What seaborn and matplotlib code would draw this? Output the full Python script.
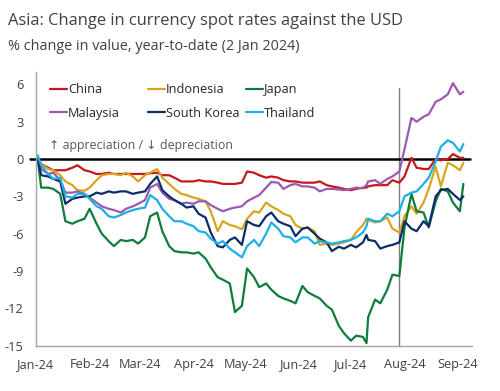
import pandas as pd
import matplotlib
matplotlib.use("Agg")
import matplotlib.pyplot as plt
import matplotlib.dates as mdates
from matplotlib.lines import Line2D
import seaborn as sns

dates = [
    "2024-01-02", "2024-01-04", "2024-01-08", "2024-01-11", "2024-01-15", "2024-01-18", "2024-01-22", "2024-01-25", "2024-01-29",
    "2024-02-01", "2024-02-05", "2024-02-08", "2024-02-12", "2024-02-15", "2024-02-19", "2024-02-22", "2024-02-26", "2024-02-29",
    "2024-03-04", "2024-03-07", "2024-03-11", "2024-03-14", "2024-03-18", "2024-03-21", "2024-03-25", "2024-03-28",
    "2024-04-01", "2024-04-04", "2024-04-08", "2024-04-11", "2024-04-15", "2024-04-18", "2024-04-22", "2024-04-25", "2024-04-29",
    "2024-05-02", "2024-05-06", "2024-05-09", "2024-05-13", "2024-05-16", "2024-05-20", "2024-05-23", "2024-05-27", "2024-05-30",
    "2024-06-03", "2024-06-06", "2024-06-10", "2024-06-13", "2024-06-17", "2024-06-20", "2024-06-24", "2024-06-27",
    "2024-07-01", "2024-07-04", "2024-07-08", "2024-07-10", "2024-07-11", "2024-07-15", "2024-07-18", "2024-07-22", "2024-07-25", "2024-07-29",
    "2024-08-01", "2024-08-05", "2024-08-08", "2024-08-12", "2024-08-15", "2024-08-19", "2024-08-22", "2024-08-26", "2024-08-29",
    "2024-09-02", "2024-09-04",
]

china = [
    0, -0.4, -0.7, -0.9, -0.9, -0.9, -0.7, -0.5, -0.9,
    -1.0, -1.2, -1.2, -1.1, -1.2, -1.2, -1.2, -1.2, -1.2,
    -1.2, -1.15, -1.1, -1.3, -1.3, -1.5, -1.8, -1.8,
    -1.8, -1.7, -1.8, -1.8, -1.9, -2.0, -2.0, -2.0, -1.9,
    -1.0, -1.1, -1.3, -1.5, -1.4, -1.5, -1.7, -1.8, -1.8,
    -1.9, -1.9, -1.9, -1.8, -2.1, -2.2, -2.3, -2.4,
    -2.5, -2.4, -2.3, -2.3, -2.2, -2.1, -2.1, -2.1, -1.7, -1.9,
    -1.4, 0.1, -0.7, -0.8, -0.8, 0.0, -0.1, 0.0, 0.4,
    0.1, 0.1,
]
indonesia = [
    0, -0.4, -0.8, -0.9, -1.3, -1.8, -2.1, -2.5, -2.55,
    -2.3, -1.7, -1.3, -1.2, -1.2, -1.3, -1.1, -1.4, -1.8,
    -1.3, -1.1, -0.8, -1.5, -2.0, -2.4, -2.8, -2.9,
    -3.1, -3.2, -3.4, -4.2, -5.8, -5.0, -5.3, -5.4, -5.65,
    -4.8, -4.2, -4.3, -3.5, -3.8, -4.1, -4.4, -4.6, -5.3,
    -5.6, -5.5, -5.8, -6.9, -6.8, -6.9, -6.8, -6.7,
    -6.5, -5.9, -5.3, -4.8, -4.9, -5.1, -5.0, -4.7, -5.6, -5.9,
    -4.6, -3.8, -4.4, -3.5, -2.4, -0.6, -2.2, -0.3, -0.5,
    -0.9, -0.3,
]
japan = [
    0, -2.3, -2.3, -2.4, -2.8, -5.0, -5.2, -5.0, -4.8,
    -4.0, -5.2, -6.0, -6.6, -7.0, -6.5, -6.6, -6.5, -6.8,
    -6.3, -4.6, -4.3, -5.8, -7.0, -7.4, -7.5, -7.5,
    -7.6, -7.5, -8.0, -8.7, -9.5, -9.7, -10.0, -12.3, -11.8,
    -8.8, -9.5, -10.3, -10.0, -10.5, -11.0, -11.2, -11.4, -11.6,
    -10.2, -10.7, -11.0, -11.2, -11.8, -12.1, -13.4, -14.0,
    -14.6, -14.2, -14.3, -14.8, -12.7, -11.3, -11.6, -10.5, -9.3, -9.4,
    -5.5, -2.8, -4.2, -4.3, -5.5, -3.4, -2.4, -2.6, -3.5,
    -4.2, -2.0,
]
malaysia = [
    0, -0.8, -1.2, -1.1, -1.7, -2.7, -2.7, -2.6, -2.8,
    -3.1, -3.5, -3.8, -4.0, -4.1, -4.3, -4.0, -3.8, -3.6,
    -3.3, -2.3, -2.0, -2.7, -3.2, -3.3, -3.6, -3.5,
    -3.6, -3.4, -3.4, -3.7, -4.0, -4.2, -4.0, -3.9, -3.8,
    -3.4, -3.1, -2.9, -2.3, -1.85, -1.9, -2.4, -2.1, -2.0,
    -2.2, -2.2, -2.3, -2.6, -2.4, -2.4, -2.45, -2.5,
    -2.4, -2.3, -2.35, -2.1, -1.8, -1.7, -2.0, -1.6, -1.4, -1.0,
    0.8, 3.3, 3.0, 3.4, 3.6, 4.6, 4.8, 5.2, 6.1,
    5.2, 5.4,
]
south_korea = [
    0, -1.3, -1.4, -1.6, -1.8, -3.6, -3.2, -3.1, -3.0,
    -3.0, -2.7, -2.8, -2.6, -2.7, -2.6, -2.6, -2.8, -2.7,
    -2.6, -2.0, -1.4, -2.5, -3.0, -3.3, -3.6, -3.9,
    -3.8, -4.4, -4.7, -5.9, -7.0, -7.1, -6.5, -6.3, -6.9,
    -5.0, -5.3, -5.4, -4.6, -4.3, -5.0, -5.2, -5.4, -6.2,
    -5.6, -5.5, -6.0, -6.4, -6.7, -7.4, -7.05, -7.2,
    -6.9, -7.1, -6.7, -6.1, -6.5, -6.6, -7.2, -7.0, -6.9, -6.7,
    -5.0, -5.6, -5.8, -5.0, -5.4, -3.0, -2.5, -2.4, -2.8,
    -3.3, -3.0,
]
thailand = [
    0.3, -0.5, -1.2, -1.6, -1.5, -3.0, -3.1, -2.8, -2.8,
    -3.2, -3.8, -4.0, -4.6, -4.7, -4.5, -4.3, -4.1, -4.0,
    -3.9, -2.9, -3.3, -4.0, -4.6, -5.0, -5.0, -5.2,
    -5.4, -5.8, -5.9, -6.4, -6.8, -6.6, -7.2, -7.5, -7.9,
    -7.0, -6.5, -7.0, -6.0, -5.1, -5.6, -6.2, -6.3, -6.7,
    -6.3, -6.3, -6.8, -6.6, -6.7, -6.8, -6.7, -6.6,
    -6.5, -6.3, -5.9, -5.4, -4.8, -5.0, -5.0, -4.4, -4.6, -4.2,
    -3.0, -2.7, -2.6, -2.0, -1.5, -0.2, 1.0, 1.5, 1.3,
    0.6, 1.2,
]

countries = ["China", "Indonesia", "Japan", "Malaysia", "South Korea", "Thailand"]
colors = ["#C8161D", "#D9A51E", "#0E7C3A", "#9B59B0", "#0B2D6B", "#1AB0E5"]
y_ticks = [-15, -12, -9, -6, -3, 0, 3, 6]
event_date = "2024-07-29"

df = pd.DataFrame({
    "date": pd.to_datetime(dates),
    "China": china, "Indonesia": indonesia, "Japan": japan,
    "Malaysia": malaysia, "South Korea": south_korea, "Thailand": thailand,
})
long = df.melt(id_vars="date", var_name="country", value_name="pct")

sns.set_style("white")
plt.rcParams["font.family"] = ["Open Sans", "DejaVu Sans"]
plt.rcParams["axes.unicode_minus"] = False

grey = "#A6A6A6"
txt = "#404040"

fig = plt.figure(figsize=(5, 3.91), dpi=100)
ax = fig.add_axes([0.072, 0.116, 0.872, 0.7])

sns.lineplot(data=long, x="date", y="pct", hue="country", hue_order=countries,
             palette=dict(zip(countries, colors)), linewidth=1.6, ax=ax, legend=False)

ax.axhline(0, color="black", lw=1.8, xmin=-0.014, xmax=0.995, clip_on=False, zorder=1.5)
ax.axvline(pd.Timestamp(event_date), ymin=0, ymax=(5.7 + 15) / 22, color="#7F7F7F", lw=1, zorder=1.4)

ax.set_xlim(pd.Timestamp("2024-01-01"), pd.Timestamp("2024-09-09"))
ax.set_ylim(-15, 7)
ax.set_yticks(y_ticks)
ax.xaxis.set_major_locator(mdates.MonthLocator())
ax.xaxis.set_major_formatter(mdates.DateFormatter("%b-%y"))
ax.set_xlabel("")
ax.set_ylabel("")

for s in ["top", "right"]:
    ax.spines[s].set_visible(False)
for s in ["left", "bottom"]:
    ax.spines[s].set_color(grey)
    ax.spines[s].set_linewidth(1)
ax.tick_params(axis="both", length=4, width=1, color=grey, labelcolor=txt, labelsize=9.2)
ax.tick_params(axis="y", pad=5)
ax.tick_params(axis="x", pad=5)

fig.text(8 / 500, 1 - 25 / 391, "Asia: Change in currency spot rates against the USD",
         fontsize=11.9, color=txt, va="baseline")
fig.text(8 / 500, 1 - 50 / 391, "% change in value, year-to-date (2 Jan 2024)",
         fontsize=10.4, color=txt, va="baseline")
fig.text(49 / 500, 1 - 145 / 391, "↑ appreciation / ↓ depreciation",
         fontsize=8.9, color="#595959", va="center")

# legend as three columns
col_x = [50, 148, 246]
pal = dict(zip(countries, colors))
for x0, names in zip(col_x, [["China", "Malaysia"], ["Indonesia", "South Korea"], ["Japan", "Thailand"]]):
    handles = [Line2D([], [], color=pal[n], lw=1.6) for n in names]
    fig.legend(handles, names, loc="upper left", bbox_to_anchor=(x0 / 500, 1 - 83 / 391),
               frameon=False, fontsize=9.2, handlelength=1.3, handletextpad=0.1,
               labelspacing=0.85, borderpad=0, borderaxespad=0, labelcolor="#262626")

fig.savefig("out.png", dpi=100)
